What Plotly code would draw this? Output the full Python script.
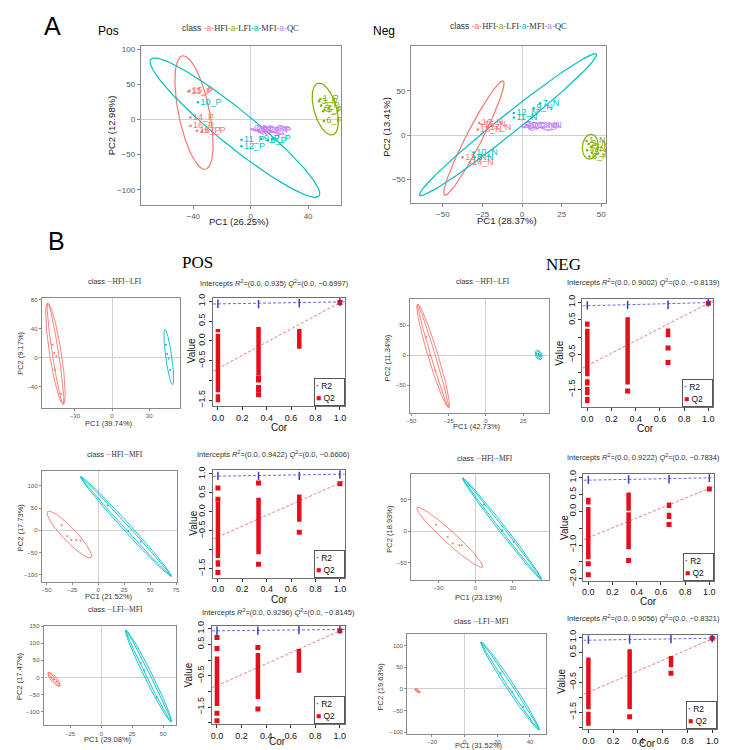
import numpy as np
import plotly.graph_objects as go

W, H = 729, 750
RED, GREEN, CYAN, PURPLE = "#F8766D", "#7CAE00", "#00BFC4", "#C77CFF"
Q2_RED, R2_BLUE = "#E3101B", "#3C3CC8"

# ---------- panel A, Pos ----------
pos_hfi_x = [-43.4, -42.5, -42.0, -42.0, -37.5, -34.0]
pos_hfi_y = [40, 41, 2.8, -8.8, -15.8, -16.5]
pos_hfi_lab = ["13_P", "15_P", "14_P", "16_P", "18_P", "17_P"]
pos_mfi_x = [-36.8, -6.4, 7.4, -6.4, 12.0, 15.0]
pos_mfi_y = [24.7, -28.9, -27.5, -38.2, -30.0, -28.0]
pos_mfi_lab = ["10_P", "11_P", "9_P", "12_P", "8_P", "7_P"]
pos_qc_x = [0.5, 2.0, 3.5, 5.0, 6.0]
pos_qc_y = [-13.5, -14.5, -15.5, -15.0, -16.5]
pos_qc_lab = ["QC1_P", "QC2_P", "QC3_P", "QC4_P", "QC5_P"]
pos_lfi_x = [47.6, 48.5, 50.5, 51.5, 51.0, 49.0]
pos_lfi_y = [26, 29, 12, 14, -2, 20]
pos_lfi_lab = ["3_P", "1_P", "4_P", "5_P", "6_P", "2_P"]
# ellipse: centre x, centre y, half-axis vector a, half-axis vector b
pos_ell_hfi = [-39.5, 10, -7.5, 81, 11, 0]
pos_ell_mfi = [-11, -11.5, 58.6, -97.5, 7.9, 19.4]
pos_ell_lfi = [52, 15, -4.5, 37, 8, 1]

# ---------- panel A, Neg ----------
neg_hfi_x = [-27, -25.5, -28, -22, -37.5, -33]
neg_hfi_y = [13.7, 12, 6.3, 8, -25, -31]
neg_hfi_lab = ["16_N", "15_N", "18_N", "17_N", "13_N", "14_N"]
neg_mfi_x = [-30.6, -30, -5.2, -5.2, 7.3, 11.4]
neg_mfi_y = [-19.6, -25, 24.8, 20, 30.4, 35.9]
neg_mfi_lab = ["10_N", "8_N", "12_N", "11_N", "9_N", "7_N"]
neg_qc_x = [0, 1.5, 3, 4.5]
neg_qc_y = [10, 9, 11, 10]
neg_qc_lab = ["QC1_N", "QC2_N", "QC3_N", "QC4_N"]
neg_lfi_x = [40.6, 42, 43.5, 41, 44, 42.5]
neg_lfi_y = [-6.7, -10, -13, -17, -20, -24]
neg_lfi_lab = ["1_N", "2_N", "3_N", "4_N", "5_N", "6_N"]
neg_ell_hfi = [-30.4, -3.4, 18.5, 64.4, 4.45, -4.0]
neg_ell_mfi = [-8.85, 11.8, 55.75, 79.6, 3.8, -8.4]
neg_ell_lfi = [43, -13, 0.5, 14, 5, 0]

# ---------- panel B, pairwise PCA ----------
b1p_a_x, b1p_a_y = [-48, -46.7, -46, -41, -45], [17.6, 6.3, -17, -50, 2]
b1p_b_x, b1p_b_y = [43.5, 45.8, 47, 44.5], [17.6, -1.4, -17, 5]
b1p_ell_a = [[-45.7, 5.4, -6.3, 70, 4.8, 0], [-45.7, 5.4, -6.3, 70, 2.6, 0]]
b1p_ell_b = [[45.8, 0.8, -3.1, 38.2, 2.5, 0]]

b1n_a_x, b1n_a_y = [-40, -37.5, -33.8], [30.6, -0.5, -25.7]
b1n_b_x, b1n_b_y = [35, 35.5, 36], [2, 0, -2]
b1n_ell_a = [[-35.4, -1, -10.4, 86, 3.5, 0], [-35.4, -1, -10.4, 86, 1.6, 0]]
b1n_ell_b = [[35.3, 0.5, -0.8, 8, 2.2, 0], [35.3, 0.5, -0.6, 6, 1.4, 0]]

b2p_a_x, b2p_a_y = [-35.3, -29.6, -25.8, -21, -17], [11, -13.3, -22, -22, -23]
b2p_b_x, b2p_b_y = [9.2, 29, 41], [55.6, -2, -26]
b2p_ell_a = [[-27.7, -9.7, 21, -51.8, 4.7, 10.2]]
b2p_ell_b = [[26.7, 8.5, 43.6, -112.2, 2.83, 5.96], [26.7, 8.5, 43.6, -112.2, 1.4, 3.0]]

b2n_a_x, b2n_a_y = [-31.6, -22.3, -18.3, -13, -11], [10.6, -9, -19.4, -22, -22]
b2n_b_x, b2n_b_y = [6.9, 21.5, 30.8], [42.6, 1.6, -16.8]
b2n_ell_a = [[-20.7, -9.5, 26.3, -47.5, 3.2, 7.0]]
b2n_ell_b = [[21.4, 4, 31.7, -81, 2.2, 3.4], [21.4, 4, 31.7, -81, 1.1, 1.7]]

b3p_a_x, b3p_a_y = [-40, -38, -36], [0, -5, -12]
b3p_b_x, b3p_b_y = [32, 34.6, 44.7], [42, 21, -57.5]
b3p_ell_a = [[-38, -5.3, 4.6, -19.7, 1.84, 5.5], [-38, -5.3, 4.6, -19.7, 0.9, 2.7]]
b3p_ell_b = [[38.2, 4, 18.3, -134, 2.87, 5.07], [38.2, 4, 18.3, -134, 1.4, 2.5]]

b3n_a_x, b3n_a_y = [-29.5, -28.5, -27.8], [-1, -4, -7]
b3n_b_x, b3n_b_y = [22, 29, 36], [36, -6.8, -41]
b3n_ell_a = [[-29, -4.5, 1.5, -5, 1.0, 0.5], [-29, -4.5, 1.2, -4, 0.6, 0.3]]
b3n_ell_b = [[27.8, 6.6, 17.8, -101.4, 2.0, 5.0], [27.8, 6.6, 17.8, -101.4, 1.0, 2.5]]

# ---------- panel B, permutation tests ----------
perm_cor = [0.0, 0.333, 0.667, 1.0]

p1p_r2 = [0.94, 0.93, 0.95, 0.985]
p1p_r2_fit, p1p_q2_fit = [0.935, 0.985], [-0.6997, 0.97]
p1p_runs = [[0, 0.22, 0.30], [0, -1.30, 0.18], [0, -1.55, -1.35], [0.333, -0.88, 0.35], [0.667, -0.20, 0.30]]
p1p_pts_x = [0.333, 0.333, 0.333, 0.333, 0.333, 1.0]
p1p_pts_y = [-0.95, -0.99, -1.18, -1.24, -1.36, 0.97]

p1n_r2 = [0.91, 0.92, 0.93, 0.99]
p1n_r2_fit, p1n_q2_fit = [0.9002, 0.99], [-0.8139, 0.97]
p1n_runs = [[0, 0.30, 0.45], [0, -1.12, 0.24], [0, -1.38, -1.2], [0, -1.65, -1.42], [0, -1.88, -1.7],
            [0.333, -1.35, 0.57], [0.667, 0.0, 0.25]]
p1n_pts_x = [0.333, 0.667, 0.667, 1.0]
p1n_pts_y = [-1.54, -0.31, -0.72, 0.97]

p2p_r2 = [0.95, 0.95, 0.95, 0.99]
p2p_r2_fit, p2p_q2_fit = [0.9422, 0.995], [-0.6606, 0.76]
p2p_runs = [[0, -1.22, 0.27], [0, -1.45, -1.28], [0.333, -1.12, 0.37], [0.667, -0.26, 0.46]]
p2p_pts_x = [0, 0, 0, 0.333, 0.333, 0.667, 1.0]
p2p_pts_y = [0.63, 0.33, -1.6, 0.76, -1.38, -0.54, 0.74]

p2n_r2 = [0.93, 0.94, 0.95, 0.99]
p2n_r2_fit, p2n_q2_fit = [0.9222, 0.99], [-0.7834, 0.68]
p2n_runs = [[0, 0.2, 0.40], [0, -1.42, 0.13], [0.333, 0.02, 0.56], [0.333, -1.12, -0.03],
            [0.667, 0.1, 0.26], [0.667, -0.23, -0.04]]
p2n_pts_x = [0, 0, 0.333, 0.667, 1.0]
p2n_pts_y = [-1.55, -1.88, -1.46, -0.39, 0.66]

p3p_r2 = [0.93, 0.935, 0.95, 0.97]
p3p_r2_fit, p3p_q2_fit = [0.9296, 0.97], [-0.8145, 0.93]
p3p_runs = [[0, -1.46, 0.11], [0.333, -1.24, 0.22], [0.667, -0.4, 0.35]]
p3p_pts_x = [0, 0, 0, 0, 0.333, 0.333, 1.0]
p3p_pts_y = [0.72, 0.37, -1.69, -1.93, 0.4, -1.56, 0.93]

p3n_r2 = [0.92, 0.93, 0.94, 0.97]
p3n_r2_fit, p3n_q2_fit = [0.9056, 0.97], [-0.8321, 0.95]
p3n_runs = [[0, -1.40, 0.33], [0, -1.95, -1.48], [0.333, -1.39, 0.6], [0.667, 0.0, 0.38]]
p3n_pts_x = [0.333, 0.667, 1.0]
p3n_pts_y = [-1.65, -0.2, 0.97]


fig = go.Figure()
axes = {}
notes = []


def add_axes(k, box, xr, yr, xtv, ytv, kind, yttext=None):
    l, t, r, b = box
    s = "" if k == 1 else str(k)
    if kind == "perm":
        base = dict(showline=True, mirror=True, linecolor="#707070", linewidth=1, ticks="outside",
                    ticklen=3, tickcolor="#333", showgrid=False, zeroline=False,
                    tickfont=dict(size=9, color="#111"))
    else:
        fs = 8 if kind == "A" else 6
        base = dict(showline=True, mirror=True, linecolor="#8A8A8A", linewidth=1, ticks="outside",
                    ticklen=3 if kind == "A" else 2, tickcolor="#8A8A8A", showgrid=False,
                    zeroline=True, zerolinecolor="#D0D0D0", zerolinewidth=1,
                    tickfont=dict(size=fs, color="#555"))
    xd = dict(base, domain=[l / W, r / W], range=xr, anchor="y" + s, tickmode="array", tickvals=xtv)
    yd = dict(base, domain=[1 - b / H, 1 - t / H], range=yr, anchor="x" + s, tickmode="array", tickvals=ytv)
    if kind == "perm":
        xd["tickformat"] = ".1f"
        yd["tickangle"] = -90
        yd["ticktext"] = yttext
    axes["xaxis" + s] = xd
    axes["yaxis" + s] = yd
    return "x" + s, "y" + s


def note(x, y, s, size, color="#000", angle=0, family=None, **kw):
    d = dict(x=x / W, y=1 - y / H, xref="paper", yref="paper", text=s, showarrow=False,
             font=dict(size=size, color=color), textangle=angle, xanchor="center", yanchor="middle")
    if family:
        d["font"]["family"] = family
    d.update(kw)
    notes.append(d)


def ellipse_xy(e, n=200):
    cx, cy, ax, ay, bx, by = e
    t = np.linspace(0, 2 * np.pi, n)
    return cx + ax * np.cos(t) + bx * np.sin(t), cy + ay * np.cos(t) + by * np.sin(t)


def add_ellipses(xa, ya, ells, color, width=1):
    for e in ells:
        ex, ey = ellipse_xy(e)
        fig.add_trace(go.Scatter(x=ex, y=ey, xaxis=xa, yaxis=ya, mode="lines",
                                 line=dict(color=color, width=width), hoverinfo="skip"))


def add_labelled(xa, ya, x, y, lab, color):
    fig.add_trace(go.Scatter(x=x, y=y, text=lab, xaxis=xa, yaxis=ya, mode="markers+text",
                             textposition="middle right", marker=dict(size=2.5, color=color),
                             textfont=dict(size=9, color=color)))


def class_key(names, colors, key):
    parts = ["class "]
    for n, c in zip(names, colors):
        parts.append("<span style='color:%s'>%s</span><span style='font-family:Liberation Serif'>%s</span>"
                     % (c, key, n))
    return "".join(parts)


# ---------------- panel A ----------------
note(41, 13, "A", 25)
note(97, 18, "Pos", 12)
note(376, 18, "Neg", 12)
names4 = ["HFI", "LFI", "MFI", "QC"]
cols4 = [RED, GREEN, CYAN, PURPLE]
note(231, 15, class_key(names4, cols4, "-a-"), 8.5, color="#333")
note(501, 13, class_key(names4, cols4, "-a-"), 8.5, color="#333")

xa, ya = add_axes(1, (130, 33, 332, 195), [-76.6, 62.8], [-122, 105.6], [-40, 0, 40],
                  [-100, -50, 0, 50, 100], "A")
add_ellipses(xa, ya, [pos_ell_hfi], RED, 1.2)
add_ellipses(xa, ya, [pos_ell_mfi], CYAN, 1.2)
add_ellipses(xa, ya, [pos_ell_lfi], GREEN, 1.2)
add_labelled(xa, ya, pos_hfi_x, pos_hfi_y, pos_hfi_lab, RED)
add_labelled(xa, ya, pos_mfi_x, pos_mfi_y, pos_mfi_lab, CYAN)
add_labelled(xa, ya, pos_qc_x, pos_qc_y, pos_qc_lab, PURPLE)
add_labelled(xa, ya, pos_lfi_x, pos_lfi_y, pos_lfi_lab, GREEN)
note(229, 212, "PC1 (26.25%)", 9.5, "#222")
note(100, 114, "PC2 (12.98%)", 9.5, "#222", angle=-90)

xa, ya = add_axes(2, (403, 33, 600, 193), [-70, 53.1], [-76.7, 101], [-50, -25, 0, 25, 50],
                  [-50, 0, 50], "A")
add_ellipses(xa, ya, [neg_ell_hfi], RED, 1.2)
add_ellipses(xa, ya, [neg_ell_mfi], CYAN, 1.2)
add_ellipses(xa, ya, [neg_ell_lfi], GREEN, 1.2)
add_labelled(xa, ya, neg_hfi_x, neg_hfi_y, neg_hfi_lab, RED)
add_labelled(xa, ya, neg_mfi_x, neg_mfi_y, neg_mfi_lab, CYAN)
add_labelled(xa, ya, neg_qc_x, neg_qc_y, neg_qc_lab, PURPLE)
add_labelled(xa, ya, neg_lfi_x, neg_lfi_y, neg_lfi_lab, GREEN)
note(500, 211, "PC1 (28.37%)", 9.5, "#222")
note(378, 115, "PC2 (13.41%)", 9.5, "#222", angle=-90)

# ---------------- panel B ----------------
note(45, 231, "B", 25)
note(187, 253, "POS", 17, family="Liberation Serif")
note(557, 255, "NEG", 17, family="Liberation Serif")

pca_specs = [
    (3, (30, 289, 170, 401), [-56.8, 55.2], [-69.8, 82.7], [-30, 0, 30], [-40, 0, 40, 80],
     b1p_a_x, b1p_a_y, b1p_ell_a, b1p_b_x, b1p_b_y, b1p_ell_b, ["HFI", "LFI"],
     (104, 272), (98, 417), (9, 345), "PC1 (39.74%)", "PC2 (9.17%)"),
    (4, (402, 290, 542, 406), [-50.8, 42.1], [-96, 94], [-50, -25, 0, 25], [-50, 0, 50],
     b1n_a_x, b1n_a_y, b1n_ell_a, b1n_b_x, b1n_b_y, b1n_ell_b, ["HFI", "LFI"],
     (476, 272), (470, 420), (380, 350), "PC1 (42.73%)", "PC2 (11.34%)"),
    (5, (30, 465, 167, 577), [-54.4, 76.3], [-115.6, 133], [-50, -25, 0, 25, 50, 75],
     [-100, -50, 0, 50, 100],
     b2p_a_x, b2p_a_y, b2p_ell_a, b2p_b_x, b2p_b_y, b2p_ell_b, ["HFI", "MFI"],
     (104, 448), (98, 592), (8, 522), "PC1 (21.52%)", "PC2 (17.73%)"),
    (6, (403, 468, 542, 575), [-51.7, 58.9], [-76.8, 91], [-30, 0, 30, 60], [-50, 0, 50],
     b2n_a_x, b2n_a_y, b2n_ell_a, b2n_b_x, b2n_b_y, b2n_ell_b, ["HFI", "MFI"],
     (478, 452), (472, 593), (381, 523), "PC1 (23.13%)", "PC2 (18.93%)"),
    (7, (32, 622, 166, 723), [-46.3, 60.7], [-140, 150.6], [-25, 0, 25, 50],
     [-100, -50, 0, 50, 100, 150],
     b3p_a_x, b3p_a_y, b3p_ell_a, b3p_b_x, b3p_b_y, b3p_ell_b, ["LFI", "MFI"],
     (104, 605), (97, 737), (7, 673), "PC1 (29.08%)", "PC2 (17.47%)"),
    (8, (399, 630, 539, 732), [-35.2, 49.7], [-104.5, 127], [-20, 0, 20, 40],
     [-100, -50, 0, 50, 100],
     b3n_a_x, b3n_a_y, b3n_ell_a, b3n_b_x, b3n_b_y, b3n_ell_b, ["LFI", "MFI"],
     (474, 618), (472, 743), (373, 683), "PC1 (31.52%)", "PC2 (19.63%)"),
]

for (k, box, xr, yr, xtv, ytv, ax_, ay_, ella, bx_, by_, ellb, names, legpos, xtpos, ytpos,
     xtitle, ytitle) in pca_specs:
    xa, ya = add_axes(k, box, xr, yr, xtv, ytv, "B")
    add_ellipses(xa, ya, ella, RED, 0.9)
    add_ellipses(xa, ya, ellb, CYAN, 0.9)
    fig.add_trace(go.Scatter(x=ax_, y=ay_, xaxis=xa, yaxis=ya, mode="markers",
                             marker=dict(size=2, color=RED)))
    fig.add_trace(go.Scatter(x=bx_, y=by_, xaxis=xa, yaxis=ya, mode="markers",
                             marker=dict(size=2, color=CYAN)))
    note(legpos[0], legpos[1], class_key(names, [RED, CYAN], "\u2500"), 7.5, color="#333")
    note(xtpos[0], xtpos[1], xtitle, 7.5, "#333")
    note(ytpos[0], ytpos[1], ytitle, 7.5, "#333", angle=-90)

ylab_a = ["\u22121.5", "", "\u22120.5", "0.0", "0.5", "1.0"]
ylab_b = ["\u22121.5", "", "\u22120.5", "", "0.5", "1.0"]
ylab_c = ["\u22122.0", "", "\u22121.0", "", "0.0", "0.5", "1.0"]
ylab_d = ["", "\u22121.5", "", "\u22120.5", "", "0.5", "1.0"]
ticks6 = [-1.5, -1.0, -0.5, 0.0, 0.5, 1.0]
ticks7 = [-2.0, -1.5, -1.0, -0.5, 0.0, 0.5, 1.0]

perm_specs = [
    (9, (203, 289, 336, 399), [-1.65, 1.09], ticks6, ylab_a, p1p_r2, p1p_r2_fit, p1p_q2_fit,
     p1p_runs, p1p_pts_x, p1p_pts_y, "0.935", "\u22120.6997", (265, 274), (270, 421), (182, 343)),
    (10, (576, 290, 708, 400), [-2.0, 1.1], ticks6, ylab_b, p1n_r2, p1n_r2_fit, p1n_q2_fit,
     p1n_runs, p1n_pts_x, p1n_pts_y, "0.9002", "\u22120.8139", (638, 273), (640, 422), (553, 345)),
    (11, (203, 464, 336, 573), [-1.735, 1.1], ticks6, ylab_a, p2p_r2, p2p_r2_fit, p2p_q2_fit,
     p2p_runs, p2p_pts_x, p2p_pts_y, "0.9422", "\u22120.6606", (264, 448), (270, 595), (183, 518)),
    (12, (577, 468, 709, 576), [-2.05, 1.1], ticks7, ylab_c, p2n_r2, p2n_r2_fit, p2n_q2_fit,
     p2n_runs, p2n_pts_x, p2n_pts_y, "0.9222", "\u22120.7834", (638, 451), (643, 597), (558, 522)),
    (13, (202, 622, 336, 722), [-2.046, 1.086], ticks7, ylab_d, p3p_r2, p3p_r2_fit, p3p_q2_fit,
     p3p_runs, p3p_pts_x, p3p_pts_y, "0.9296", "\u22120.8145", (269, 608), (268, 739), (178, 672)),
    (14, (577, 631, 712, 727), [-2.067, 1.087], ticks7, ylab_d, p3n_r2, p3n_r2_fit, p3n_q2_fit,
     p3n_runs, p3n_pts_x, p3n_pts_y, "0.9056", "\u22120.8321", (638, 614), (642, 741), (554, 678)),
]

xr_perm = [-0.04, 1.04]
for (k, box, yr, ytv, ytt, r2, r2fit, q2fit, runs, qx, qy, r2txt, q2txt, tpos, cpos, vpos) in perm_specs:
    xa, ya = add_axes(k, box, xr_perm, yr, [0, 0.2, 0.4, 0.6, 0.8, 1.0], ytv, "perm", ytt)
    for fit, col in ((r2fit, "#6A6AD8"), (q2fit, "#F27A7A")):
        slope = fit[1] - fit[0]
        fig.add_trace(go.Scatter(x=xr_perm, y=[fit[0] + slope * v for v in xr_perm], xaxis=xa, yaxis=ya,
                                 mode="lines", line=dict(color=col, width=1, dash="3px,2px")))
    rx, ry = [], []
    for c, lo, hi in runs:
        rx += [c, c, None]
        ry += [lo, hi, None]
    fig.add_trace(go.Scatter(x=rx, y=ry, xaxis=xa, yaxis=ya, mode="lines",
                             line=dict(color=Q2_RED, width=4.5)))
    fig.add_trace(go.Scatter(x=qx, y=qy, xaxis=xa, yaxis=ya, mode="markers",
                             marker=dict(symbol="square", size=5, color=Q2_RED)))
    fig.add_trace(go.Scatter(x=perm_cor, y=r2, xaxis=xa, yaxis=ya, mode="markers",
                             marker=dict(symbol="line-ns", size=6, line=dict(width=1.5, color=R2_BLUE))))
    note(tpos[0], tpos[1], "Intercepts <i>R</i><sup>2</sup>=(0.0, %s) <i>Q</i><sup>2</sup>=(0.0, %s)"
         % (r2txt, q2txt), 7.5, "#333")
    note(cpos[0], cpos[1], "Cor", 10, "#111")
    note(vpos[0], vpos[1], "Value", 10, "#111", angle=-90)
    l, t, r, b = box
    notes.append(dict(x=r / W, y=1 - b / H, xref="paper", yref="paper", xanchor="right", yanchor="bottom",
                      showarrow=False, align="left", width=27, height=24, borderpad=1,
                      bordercolor="#555", borderwidth=1, bgcolor="white",
                      text="<span style='color:%s'><b>\u00b7</b></span> R2<br>"
                           "<span style='color:%s'>\u25a0</span> Q2" % (R2_BLUE, Q2_RED),
                      font=dict(size=8.5, color="#111")))

fig.update_layout(axes)
fig.update_layout(width=W, height=H, margin=dict(l=0, r=0, t=0, b=0), showlegend=False,
                  plot_bgcolor="white", paper_bgcolor="white",
                  font=dict(family="Liberation Sans, Arial, sans-serif"), annotations=notes)
fig.write_html("out.html")
